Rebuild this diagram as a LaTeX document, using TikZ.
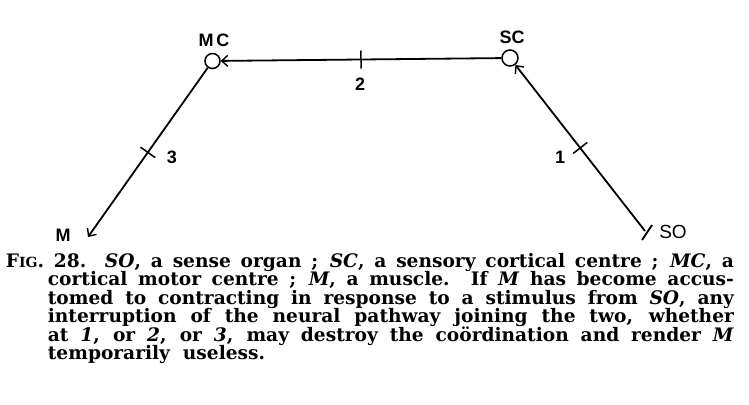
\documentclass[tikz,border=0pt]{standalone}
\usepackage{fontspec}
\setmainfont{DejaVu Serif}
\newfontfamily\lblfont{Liberation Sans}
\usetikzlibrary{arrows.meta}
\begin{document}
\begin{tikzpicture}[x=1pt,y=-1pt,line width=1.8pt,
  nerve/.style={-{Straight Barb[length=6pt,width=11pt,line width=1.4pt]}},
  centre/.style={draw,circle,inner sep=0pt,line width=1.5pt},
  crossbar/.style={draw,sloped,rectangle,minimum width=0pt,minimum height=18pt,inner sep=0pt,line width=1.5pt},
  lbl/.style={inner sep=0pt,font=\lblfont\bfseries\fontsize{18}{18}\selectfont},
  capline/.style={inner sep=0pt,anchor=base west,font=\bfseries\fontsize{18.6}{19}\selectfont}]
\useasboundingbox (0,0) rectangle (749,404);
% centres
\node[centre,minimum size=15pt] (MC) at (212.5,61) {};
\node[centre,minimum size=16pt] (SC) at (510,58) {};
\coordinate (M) at (88,237);
\coordinate (SO) at (645,231);
\coordinate (SOa) at (642,240);
\coordinate (SOb) at (652,225);
% labels
\node[lbl] (MClab) at (214,40) {M\,C};
\node[lbl] (SClab) at (512,37) {SC};
\node[lbl] (Mlab) at (63,235) {M};
\node[lbl,font=\lblfont\fontsize{19}{19}\selectfont] (SOlab) at (673,232) {SO};
\node[lbl] (n2) at (360,84) {2};
\node[lbl] (n3) at (172,157) {3};
\node[lbl] (n1) at (560,157) {1};
% pathways
\draw[nerve] (SC) -- node[crossbar,pos=0.5]{} (MC);
\draw[nerve] (MC) -- node[crossbar,pos=0.5]{} (M);
\draw[nerve] (SO) -- node[crossbar,pos=0.5]{} (SC);
\draw (SOa) -- (SOb);
% caption
\node[capline] (c1) at (5,267) {\makebox[728pt][s]{F{\fontsize{14}{14}\selectfont IG}. 28.\quad \textit{SO}, a sense organ ; \textit{SC}, a sensory cortical centre ; \textit{MC}, a}};
\node[capline] (c2) at (47,285.5) {\makebox[686pt][s]{cortical motor centre ; \textit{M}, a muscle.\ \ If \textit{M} has become accus-}};
\node[capline] (c3) at (47,304) {\makebox[686pt][s]{tomed to contracting in response to a stimulus from \textit{SO}, any}};
\node[capline] (c4) at (47,322.5) {\makebox[686pt][s]{interruption of the neural pathway joining the two, whether}};
\node[capline] (c5) at (47,341) {\makebox[686pt][s]{at \textit{1}, or \textit{2}, or \textit{3}, may destroy the coördination and render \textit{M}}};
\node[capline] (c6) at (47,359.5) {temporarily\ \ useless.};
\end{tikzpicture}
\end{document}
